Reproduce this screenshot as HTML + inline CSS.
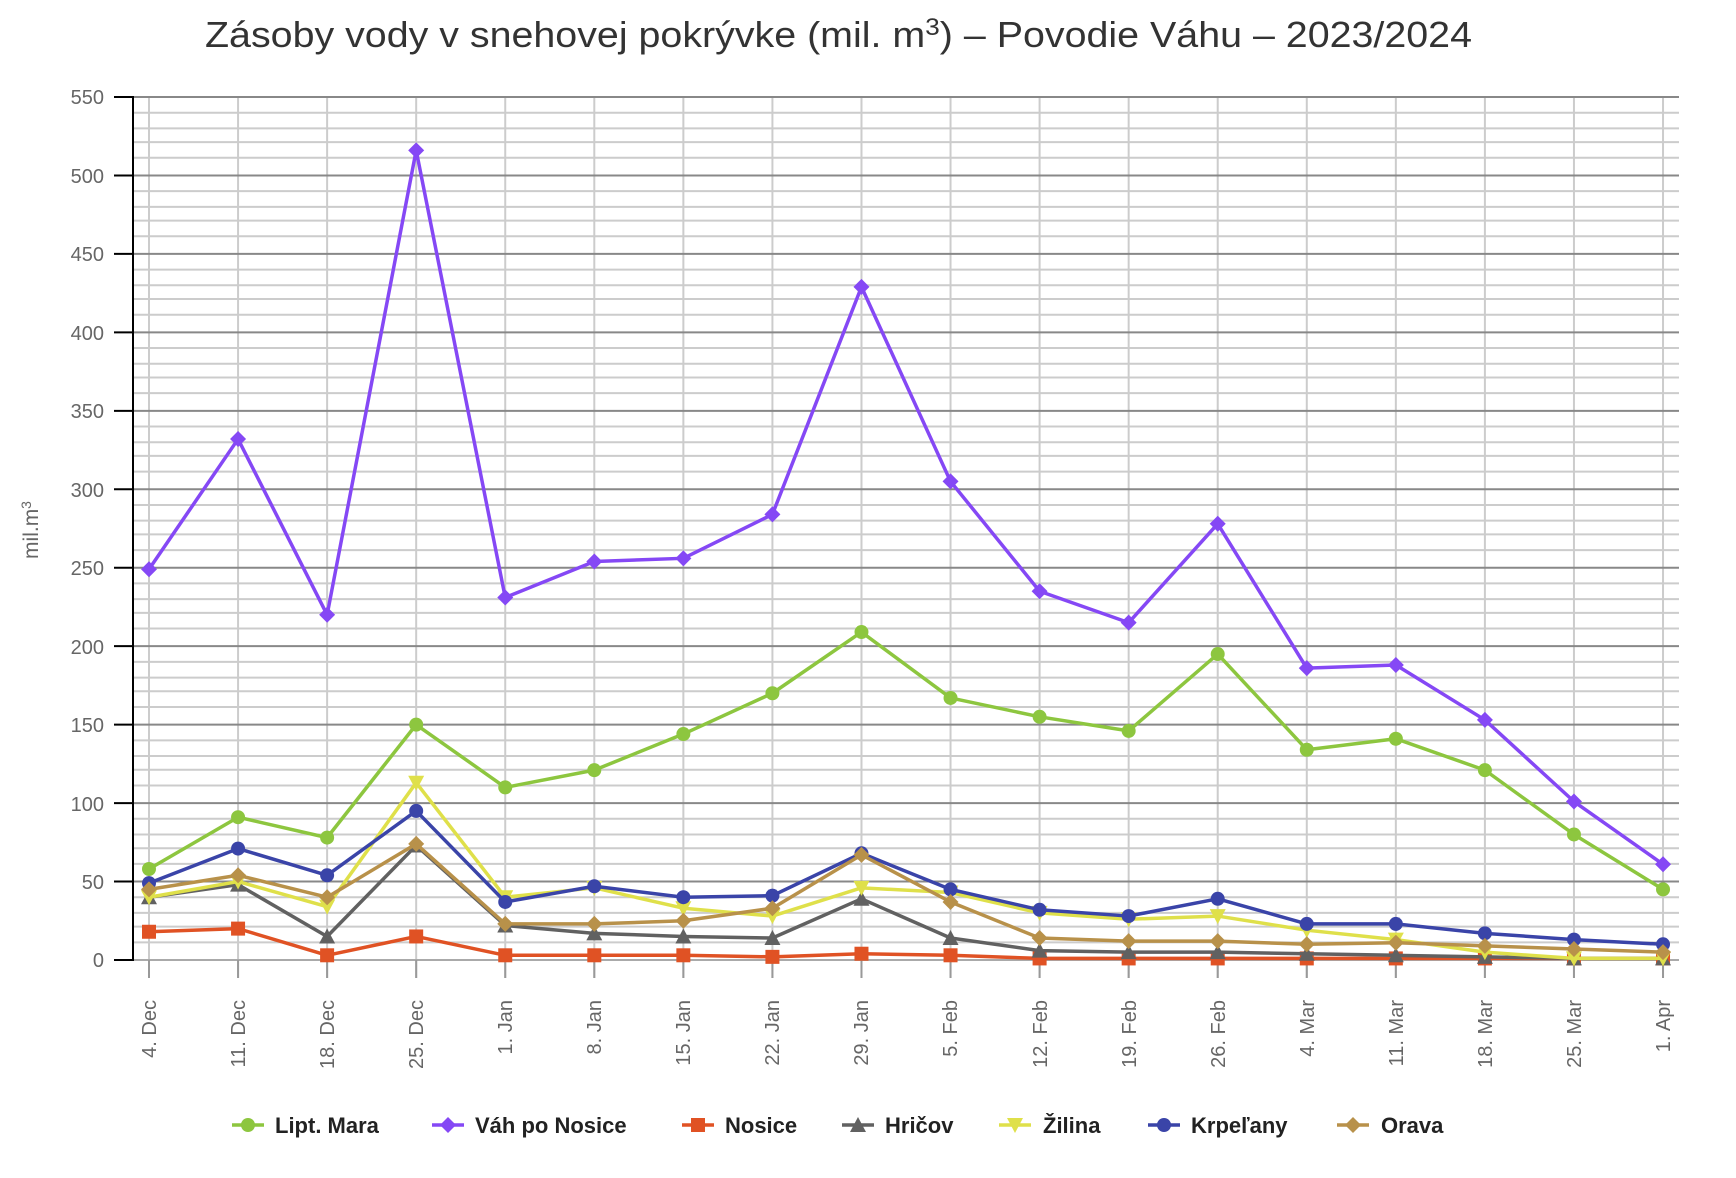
<!DOCTYPE html>
<html><head><meta charset="utf-8"><style>
html,body{margin:0;padding:0;background:#fff;}
svg{display:block;font-family:"Liberation Sans",sans-serif;}
</style></head><body>
<svg id="c" width="1736" height="1178" viewBox="0 0 1736 1178" xmlns="http://www.w3.org/2000/svg">
<g id="grid"></g>
<text x="205" y="47" font-size="36" fill="#333" textLength="1267" lengthAdjust="spacingAndGlyphs">Zásoby vody v snehovej pokrývke (mil. m<tspan dy="-12" font-size="24">3</tspan><tspan dy="12">) – Povodie Váhu – 2023/2024</tspan></text>
<g font-size="20" fill="#666" text-anchor="end">
<text x="104" y="104">550</text><text x="104" y="183">500</text><text x="104" y="261">450</text>
<text x="104" y="340">400</text><text x="104" y="418">350</text><text x="104" y="497">300</text>
<text x="104" y="575">250</text><text x="104" y="654">200</text><text x="104" y="732">150</text>
<text x="104" y="811">100</text><text x="104" y="889">50</text><text x="104" y="967">0</text>
</g>
<text transform="translate(38,530) rotate(-90)" font-size="21" fill="#666" text-anchor="middle">mil.m<tspan dy="-7" font-size="14">3</tspan></text>
<g font-size="20" fill="#666" text-anchor="end" id="xl">
<text transform="translate(156,1000) rotate(-90)">4. Dec</text>
<text transform="translate(245,1000) rotate(-90)">11. Dec</text>
<text transform="translate(334,1000) rotate(-90)">18. Dec</text>
<text transform="translate(423,1000) rotate(-90)">25. Dec</text>
<text transform="translate(512,1000) rotate(-90)">1. Jan</text>
<text transform="translate(601,1000) rotate(-90)">8. Jan</text>
<text transform="translate(690,1000) rotate(-90)">15. Jan</text>
<text transform="translate(779,1000) rotate(-90)">22. Jan</text>
<text transform="translate(868,1000) rotate(-90)">29. Jan</text>
<text transform="translate(957,1000) rotate(-90)">5. Feb</text>
<text transform="translate(1047,1000) rotate(-90)">12. Feb</text>
<text transform="translate(1136,1000) rotate(-90)">19. Feb</text>
<text transform="translate(1225,1000) rotate(-90)">26. Feb</text>
<text transform="translate(1314,1000) rotate(-90)">4. Mar</text>
<text transform="translate(1403,1000) rotate(-90)">11. Mar</text>
<text transform="translate(1492,1000) rotate(-90)">18. Mar</text>
<text transform="translate(1581,1000) rotate(-90)">25. Mar</text>
<text transform="translate(1670,1000) rotate(-90)">1. Apr</text>
</g>
<g id="series"></g>
<g id="leg"></g>
<g font-size="22" font-weight="bold" fill="#222">
<text x="275" y="1133">Lipt. Mara</text>
<text x="475" y="1133">Váh po Nosice</text>
<text x="725" y="1133">Nosice</text>
<text x="885" y="1133">Hričov</text>
<text x="1043" y="1133">Žilina</text>
<text x="1191" y="1133">Krpeľany</text>
<text x="1381" y="1133">Orava</text>
</g>
</svg>
<script>
var NS="http://www.w3.org/2000/svg";
function el(p,t,a){var e=document.createElementNS(NS,t);for(var k in a)e.setAttribute(k,a[k]);p.appendChild(e);return e;}
var X=function(i){return 149+89.06*i;}, Y=function(v){return 960-v*863/550;};
var g=document.getElementById('grid');
for(var k=0;k<11;k++){var y0=Y(k*50);[18,34,48,64].forEach(function(o){el(g,'line',{x1:133,x2:1679,y1:y0-o*78.45/80,y2:y0-o*78.45/80,stroke:'#ccc','stroke-width':2});});}
for(var i=0;i<18;i++){el(g,'line',{x1:X(i),x2:X(i),y1:97,y2:978,stroke:'#ccc','stroke-width':2});}
for(var k=0;k<=11;k++){var y=Y(k*50);el(g,'line',{x1:133,x2:1679,y1:y,y2:y,stroke:k==0?'#aaa':'#888','stroke-width':2});el(g,'line',{x1:114,x2:133,y1:y,y2:y,stroke:'#000','stroke-width':2});}
for(var i=0;i<18;i++){el(g,'line',{x1:X(i),x2:X(i),y1:960,y2:978,stroke:'#999','stroke-width':2});}
el(g,'line',{x1:133,x2:133,y1:96,y2:961,stroke:'#000','stroke-width':2});
var S=[
['#8dc63f','c',[58,91,78,150,110,121,144,170,209,167,155,146,195,134,141,121,80,45]],
['#8548f5','d',[249,332,220,516,231,254,256,284,429,305,235,215,278,186,188,153,101,61]],
['#e05224','s',[18,20,3,15,3,3,3,2,4,3,1,1,1,1,1,1,1,1]],
['#616161','t',[40,48,15,73,22,17,15,14,39,14,6,5,5,4,3,2,1,1]],
['#dfe04a','v',[40,50,34,113,40,46,33,28,46,43,30,26,28,19,13,5,1,1]],
['#3a44a8','c',[49,71,54,95,37,47,40,41,68,45,32,28,39,23,23,17,13,10]],
['#b8914a','d',[45,54,40,74,23,23,25,33,67,37,14,12,12,10,11,9,7,5]]];
function mk(p,t,x,y,c){
 if(t=='c')el(p,'circle',{cx:x,cy:y,r:7,fill:c});
 else if(t=='d')el(p,'path',{d:'M'+x+' '+(y-8)+'L'+(x+8)+' '+y+'L'+x+' '+(y+8)+'L'+(x-8)+' '+y+'Z',fill:c});
 else if(t=='s')el(p,'rect',{x:x-7,y:y-7,width:14,height:14,fill:c});
 else if(t=='t')el(p,'path',{d:'M'+x+' '+(y-8)+'L'+(x+8)+' '+(y+7)+'L'+(x-8)+' '+(y+7)+'Z',fill:c});
 else el(p,'path',{d:'M'+x+' '+(y+8)+'L'+(x+8)+' '+(y-7)+'L'+(x-8)+' '+(y-7)+'Z',fill:c});
}
var sg=document.getElementById('series');
S.forEach(function(s){var d=s[2].map(function(v,i){return (i?'L':'M')+X(i)+' '+Y(v);}).join('');
 el(sg,'path',{d:d,fill:'none',stroke:s[0],'stroke-width':3.5,'stroke-linejoin':'round'});
 s[2].forEach(function(v,i){mk(sg,s[1],X(i),Y(v),s[0]);});});
var lx=[248,448,698,858,1015,1164,1353],lg=document.getElementById('leg');
S.forEach(function(s,i){el(lg,'line',{x1:lx[i]-16,x2:lx[i]+16,y1:1125,y2:1125,stroke:s[0],'stroke-width':3.5});mk(lg,s[1],lx[i],1125,s[0]);});
</script>
</body></html>
